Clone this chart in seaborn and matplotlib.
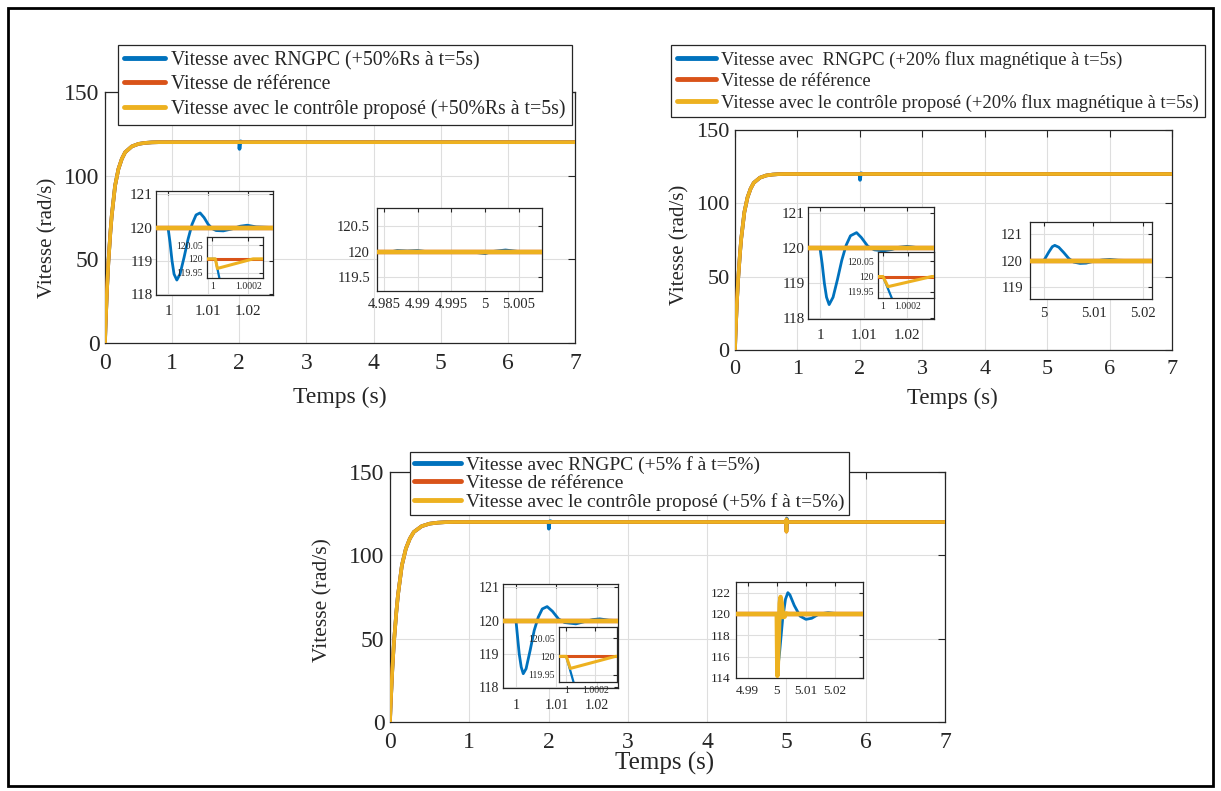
import matplotlib
matplotlib.use("Agg")
import matplotlib.pyplot as plt
from matplotlib.patches import Rectangle
import seaborn as sns

sns.set_theme(style="whitegrid")
plt.rcParams['font.family'] = ['Liberation Serif', 'DejaVu Serif']
plt.rcParams['mathtext.fontset'] = 'stix'

W, H = 1221, 791

# ------------------------- DATA -------------------------
BLUE, RED, YELLOW = '#0072BD', '#D95319', '#EDB120'

# start-up transient (common to all curves)
rise_t = [0, 0.01, 0.03, 0.05, 0.08, 0.1, 0.15, 0.2, 0.25, 0.3, 0.4, 0.5, 0.6, 0.7, 0.8, 1.0]
rise_v = [0, 12, 32, 48, 66, 76, 94, 104, 110, 114, 117.5, 119, 119.6, 119.9, 120, 120]

# disturbance near t=2 (RNGPC only) and end of run
dist2_t = [1.998, 2.0, 2.003, 2.008, 2.02, 2.05]
dist2_v = [120, 120, 116, 118.5, 120.5, 120]
end_t = [7.0]
end_v = [120]

# panel 3 disturbance at t=5
p3_blue5_t = [4.999, 5.0, 5.0006, 5.004, 5.01, 5.018, 5.03]
p3_blue5_v = [120, 120, 115.5, 122, 119.5, 120.1, 120]
p3_yel5_t = [4.999, 5.0, 5.0002, 5.0013, 5.0022, 5.004]
p3_yel5_v = [120, 120, 114.2, 121.6, 119.7, 120]

# Panel 1 - zoom around t=1
p1a_t = [0.997, 1.0, 1.0005, 1.001, 1.0015, 1.0022, 1.003, 1.004, 1.005, 1.006, 1.007,
         1.008, 1.009, 1.010, 1.011, 1.012, 1.0138, 1.016, 1.018, 1.0198, 1.022, 1.0262]
p1a_blue = [120, 120, 119.55, 119.0, 118.6, 118.42, 118.6, 119.1, 119.65, 120.1, 120.38,
            120.44, 120.3, 120.1, 119.97, 119.91, 119.9, 119.96, 120.04, 120.07, 120.02, 120]
p1a_flat_t = [0.997, 1.0262]
p1a_flat_v = [120, 120]
# Panel 1 - nested zoom
p1n_blue_t = [0.99997, 1.0000167, 1.000039, 1.00005]
p1n_blue_v = [120, 120, 119.93, 119.9]
p1n_yel_t = [0.99997, 1.0000167, 1.000028, 1.000228, 1.000283]
p1n_yel_v = [120, 120, 119.965, 120, 120]
p1n_ref_t = [0.99997, 1.000283]
p1n_ref_v = [120, 120]
# Panel 1 - zoom around t=5
p1b_t = [4.984, 4.9855, 4.987, 4.9885, 4.990, 4.9925, 4.995, 4.9975, 5.0, 5.001, 5.003, 5.005, 5.0084]
p1b_blue = [120, 119.98, 120.02, 120.01, 120.02, 119.98, 120.0, 120.0, 119.96, 120.0, 120.03, 120.0, 120.0]
p1b_flat_t = [4.984, 5.0084]
p1b_flat_v = [120, 120]

# Panel 2 - zoom around t=1
p2a_t = [0.99724, 1.0, 1.0005, 1.001, 1.0015, 1.0021, 1.003, 1.004, 1.005, 1.006, 1.007,
         1.0084, 1.0095, 1.011, 1.0125, 1.0145, 1.0165, 1.018, 1.020, 1.022, 1.0262]
p2a_blue = [120, 120, 119.55, 119.0, 118.6, 118.39, 118.6, 119.1, 119.65, 120.08, 120.35,
            120.44, 120.3, 120.05, 119.95, 119.92, 119.96, 120.02, 120.05, 120.02, 120]
p2a_flat_t = [0.99724, 1.0262]
p2a_flat_v = [120, 120]
p2n_blue_t = [0.99996, 1.0, 1.00007, 1.00008]
p2n_blue_v = [120, 120, 119.93, 119.9]
p2n_yel_t = [0.99996, 1.0, 1.00004, 1.00039, 1.000408]
p2n_yel_v = [120, 120, 119.967, 120, 120]
p2n_ref_t = [0.99996, 1.000408]
p2n_ref_v = [120, 120]
# Panel 2 - zoom around t=5
p2b_t = [4.9972, 5.0, 5.001, 5.0017, 5.0022, 5.003, 5.004, 5.005, 5.006, 5.0073, 5.0085,
         5.010, 5.0118, 5.0133, 5.015, 5.017, 5.0218]
p2b_blue = [120, 120, 120.32, 120.52, 120.57, 120.5, 120.3, 120.08, 119.94, 119.89, 119.9,
            119.97, 120.02, 120.04, 120.01, 120, 120]
p2b_flat_t = [4.9972, 5.0218]
p2b_flat_v = [120, 120]

# Panel 3 - zoom around t=1
p3a_t = [0.9968, 1.0, 1.0004, 1.0008, 1.0013, 1.0018, 1.0025, 1.0035, 1.0045, 1.0055, 1.0065,
         1.0077, 1.009, 1.0105, 1.012, 1.0148, 1.017, 1.019, 1.0207, 1.023, 1.0252]
p3a_blue = [120, 120, 119.5, 119.0, 118.6, 118.4, 118.55, 119.1, 119.7, 120.1, 120.35,
            120.42, 120.28, 120.05, 119.94, 119.9, 119.97, 120.03, 120.05, 120.01, 120]
p3a_flat_t = [0.9968, 1.0252]
p3a_flat_v = [120, 120]
p3n_blue_t = [0.99995, 1.0, 1.00005, 1.00006]
p3n_blue_v = [120, 120, 119.93, 119.9]
p3n_yel_t = [0.99995, 1.0, 1.000028, 1.00034, 1.00035]
p3n_yel_v = [120, 120, 119.967, 120, 120]
p3n_ref_t = [0.99995, 1.00035]
p3n_ref_v = [120, 120]
# Panel 3 - zoom around t=5
p3b_blue_t = [4.986, 5.0, 5.0003, 5.0006, 5.001, 5.002, 5.003, 5.0038, 5.0045, 5.006, 5.008,
              5.01, 5.012, 5.0145, 5.0176, 5.021, 5.0296]
p3b_blue_v = [120, 120, 117, 115.5, 116.5, 119.5, 121.4, 122, 121.8, 120.8, 119.8,
              119.5, 119.6, 120, 120.12, 120.03, 120]
p3b_yel_t = [4.986, 5.0, 5.0002, 5.0006, 5.001, 5.0013, 5.0017, 5.0022, 5.0027, 5.0032, 5.004, 5.0296]
p3b_yel_v = [120, 120, 114.2, 117, 121.0, 121.6, 121, 119.7, 119.75, 120.05, 120, 120]
p3b_ref_t = [4.986, 5.0296]
p3b_ref_v = [120, 120]

legend1 = ['Vitesse avec RNGPC (+50%Rs à t=5s)', 'Vitesse de référence',
           'Vitesse avec le contrôle proposé (+50%Rs à t=5s)']
legend2 = ['Vitesse avec  RNGPC (+20% flux magnétique à t=5s)', 'Vitesse de référence',
           'Vitesse avec le contrôle proposé (+20% flux magnétique à t=5s)']
legend3 = ['Vitesse avec RNGPC (+5% f à t=5%)', 'Vitesse de référence',
           'Vitesse avec le contrôle proposé (+5% f à t=5%)']

main_xticks = [0, 1, 2, 3, 4, 5, 6, 7]
main_yticks = [0, 50, 100, 150]
zoom1_xticks = [1.0, 1.01, 1.02]
zoom1_xlabels = ['1', '1.01', '1.02']
zoom1_yticks = [118, 119, 120, 121]
nest_xticks = [1.0, 1.0002]
nest_xlabels = ['1', '1.0002']
nest_yticks = [119.95, 120, 120.05]
nest_ylabels = ['119.95', '120', '120.05']
p1b_xticks = [4.985, 4.99, 4.995, 5.0, 5.005]
p1b_xlabels = ['4.985', '4.99', '4.995', '5', '5.005']
p1b_yticks = [119.5, 120, 120.5]
p1b_ylabels = ['119.5', '120', '120.5']
p2b_xticks = [5.0, 5.01, 5.02]
p2b_xlabels = ['5', '5.01', '5.02']
p2b_yticks = [119, 120, 121]
p3b_xticks = [4.99, 5.0, 5.01, 5.02]
p3b_xlabels = ['4.99', '5', '5.01', '5.02']
p3b_yticks = [114, 116, 118, 120, 122]

# ------------------------- HELPERS -------------------------
fig = plt.figure(figsize=(W / 100, H / 100), dpi=100)
fig.patch.set_facecolor('white')


def box(x0, y0, x1, y1):
    return [x0 / W, 1 - y1 / H, (x1 - x0) / W, (y1 - y0) / H]


def style(ax, fs, xpad, ypad, tlen=4, lw=0.9):
    ax.set_facecolor('white')
    for s in ax.spines.values():
        s.set_visible(True)
        s.set_color('#262626')
        s.set_linewidth(lw)
    ax.grid(True, color='#dedede', linewidth=0.8)
    ax.tick_params(direction='in', top=True, right=True, length=tlen, width=0.8,
                   colors='#262626', labelsize=fs)
    ax.tick_params(axis='x', pad=xpad)
    ax.tick_params(axis='y', pad=ypad)
    ax.set_xlabel('')
    ax.set_ylabel('')


def line(ax, t, v, color, lw, z):
    sns.lineplot(x=t, y=v, ax=ax, color=color, linewidth=lw, sort=False,
                 estimator=None, legend=False, zorder=z)


def main_panel(rect, blue_t, blue_v, yel_t, yel_v, labels, leg_anchor, leg_fs, leg_sp,
               xl_coords, yl_coords, tick_fs=17, lab_fs=17, ylab_fs=15, hlen=2.1, bpad=0.3):
    ax = fig.add_axes(box(*rect))
    line(ax, blue_t, blue_v, BLUE, 2.6, 2)
    line(ax, yel_t, yel_v, RED, 2.6, 3)
    line(ax, yel_t, yel_v, YELLOW, 2.6, 4)
    ax.set_xlim(0, 7)
    ax.set_ylim(0, 150)
    ax.set_xticks(main_xticks)
    ax.set_yticks(main_yticks)
    style(ax, tick_fs, 7, 4, tlen=5)
    ax.set_xlabel('Temps (s)', fontsize=lab_fs, va='center')
    ax.set_ylabel('Vitesse (rad/s)', fontsize=ylab_fs, va='center')
    ax.xaxis.set_label_coords(*xl_coords)
    ax.yaxis.set_label_coords(*yl_coords)
    leg = ax.legend(handles=ax.lines[:3], labels=labels, loc='upper left',
                    bbox_to_anchor=leg_anchor, bbox_transform=fig.transFigure,
                    fontsize=leg_fs, frameon=True, fancybox=False, framealpha=1,
                    edgecolor='#262626', handlelength=hlen, handletextpad=0.3,
                    labelspacing=leg_sp, borderpad=bpad, borderaxespad=0)
    leg.get_frame().set_linewidth(0.9)
    for h in leg.legend_handles:
        h.set_linewidth(3.5)
    return ax


def inset(rect, blue_t, blue_v, ref_t, ref_v, yel_t, yel_v, xlim, ylim, xt, xtl, yt, ytl,
          fs, xpad, ypad, lwb=2.0, lwy=3.2, z=5):
    ax = fig.add_axes(box(*rect), zorder=z)
    line(ax, blue_t, blue_v, BLUE, lwb, 2)
    line(ax, ref_t, ref_v, RED, lwy, 3)
    line(ax, yel_t, yel_v, YELLOW, lwy, 4)
    ax.set_xlim(*xlim)
    ax.set_ylim(*ylim)
    ax.set_xticks(xt, xtl)
    ax.set_yticks(yt, ytl)
    style(ax, fs, xpad, ypad, tlen=3)
    return ax


# ------------------------- PANEL 1 -------------------------
main_panel((105, 92, 575, 343), rise_t + dist2_t + end_t, rise_v + dist2_v + end_v,
           rise_t + end_t, rise_v + end_v, legend1, (118 / W, 1 - 45 / H), 14.2, 0.25,
           (0.5, -0.215), (-0.121, 0.42))
inset((156, 191, 273, 295), p1a_t, p1a_blue, p1a_flat_t, p1a_flat_v, p1a_flat_t, p1a_flat_v,
      (0.997, 1.0262), (117.97, 121.1), zoom1_xticks, zoom1_xlabels, zoom1_yticks,
      [str(v) for v in zoom1_yticks], 11, 7, 2.5)
inset((207, 237, 263, 278), p1n_blue_t, p1n_blue_v, p1n_ref_t, p1n_ref_v, p1n_yel_t, p1n_yel_v,
      (0.99997, 1.000283), (119.93, 120.08), nest_xticks, nest_xlabels, nest_yticks,
      nest_ylabels, 7, 3, 3, lwb=1.6, lwy=2.2, z=6)
inset((377, 208, 542, 291), p1b_t, p1b_blue, p1b_flat_t, p1b_flat_v, p1b_flat_t, p1b_flat_v,
      (4.984, 5.0084), (119.23, 120.85), p1b_xticks, p1b_xlabels, p1b_yticks, p1b_ylabels,
      10.5, 5, 5)

# ------------------------- PANEL 2 -------------------------
main_panel((735, 130, 1172, 350), rise_t + dist2_t + end_t, rise_v + dist2_v + end_v,
           rise_t + end_t, rise_v + end_v, legend2, (671 / W, 1 - 45 / H), 13.4, 0.22,
           (0.497, -0.218), (-0.126, 0.477), tick_fs=16, lab_fs=16.5)
inset((808, 207, 934, 319), p2a_t, p2a_blue, p2a_flat_t, p2a_flat_v, p2a_flat_t, p2a_flat_v,
      (0.99724, 1.0262), (117.98, 121.17), zoom1_xticks, zoom1_xlabels, zoom1_yticks,
      [str(v) for v in zoom1_yticks], 11, 7, 2.5)
inset((878, 252, 934, 298), p2n_blue_t, p2n_blue_v, p2n_ref_t, p2n_ref_v, p2n_yel_t, p2n_yel_v,
      (0.99996, 1.000408), (119.93, 120.08), nest_xticks, nest_xlabels, nest_yticks,
      nest_ylabels, 7, 3, 3, lwb=1.6, lwy=2.2, z=6)
inset((1030, 222, 1152, 299), p2b_t, p2b_blue, p2b_flat_t, p2b_flat_v, p2b_flat_t, p2b_flat_v,
      (4.9972, 5.0218), (118.55, 121.45), p2b_xticks, p2b_xlabels, p2b_yticks,
      [str(v) for v in p2b_yticks], 10.5, 6, 5)

# ------------------------- PANEL 3 -------------------------
main_panel((390, 472, 945, 722),
           rise_t + dist2_t + p3_blue5_t + end_t, rise_v + dist2_v + p3_blue5_v + end_v,
           rise_t + p3_yel5_t + end_t, rise_v + p3_yel5_v + end_v, legend3,
           (410 / W, 1 - 452 / H), 14.0, 0.04, (0.495, -0.164), (-0.121, 0.488),
           tick_fs=17, lab_fs=18, ylab_fs=15.5, hlen=2.4, bpad=0.2)
inset((503, 584, 618, 688), p3a_t, p3a_blue, p3a_flat_t, p3a_flat_v, p3a_flat_t, p3a_flat_v,
      (0.9968, 1.0252), (117.97, 121.1), zoom1_xticks, zoom1_xlabels, zoom1_yticks,
      [str(v) for v in zoom1_yticks], 10, 8, 2.5)
inset((559, 627, 617, 682), p3n_blue_t, p3n_blue_v, p3n_ref_t, p3n_ref_v, p3n_yel_t, p3n_yel_v,
      (0.99995, 1.00035), (119.93, 120.08), nest_xticks, nest_xlabels, nest_yticks,
      nest_ylabels, 7, 3, 3, lwb=1.6, lwy=2.2, z=6)
inset((736, 582, 863, 678), p3b_blue_t, p3b_blue_v, p3b_ref_t, p3b_ref_v, p3b_yel_t, p3b_yel_v,
      (4.986, 5.0296), (114, 123), p3b_xticks, p3b_xlabels, p3b_yticks,
      [str(v) for v in p3b_yticks], 9.5, 5, 4)

# outer frame
fig.add_artist(Rectangle((8 / W, 1 - 786 / H), (1213 - 8) / W, (786 - 8) / H,
                         transform=fig.transFigure, fill=False, lw=2, ec='black'))

fig.savefig('out.png', dpi=100, facecolor='white')
